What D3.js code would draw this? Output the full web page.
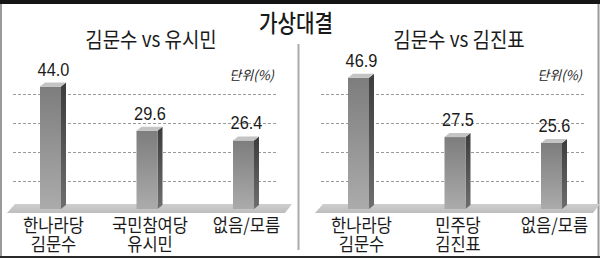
<!DOCTYPE html>
<html>
<head>
<meta charset="utf-8">
<script src="https://cdn.jsdelivr.net/npm/d3@7.9.0/dist/d3.min.js"></script>
<style>
  html, body { margin:0; padding:0; background:#fff; }
  svg { display:block; }
  text { font-family:"Noto Sans CJK KR", sans-serif; fill:#1a1a1a; }
  .num { font-family:"Liberation Sans", Arial, sans-serif; }
</style>
</head>
<body>
<div id="chart"></div>
<script>
const title = '가상대결';
const unitLabel = '단위(%)';

const panelTitles = ['김문수 vs 유시민', '김문수 vs 김진표'];
const catsLeft  = [['한나라당','김문수'], ['국민참여당','유시민'], ['없음/모름']];
const catsRight = [['한나라당','김문수'], ['민주당','김진표'], ['없음/모름']];
const valsLeft  = [44.0, 29.6, 26.4];
const valsRight = [46.9, 27.5, 25.6];
const gridVals  = [13, 22.5, 32, 41.5];

const W = 600, H = 259;
const base = 209, barW = 21, dx = 5, dy = 4;

const svg = d3.select('#chart').append('svg')
  .attr('width', W).attr('height', H);

const defs = svg.append('defs');
const grad = (id, stops, vertical) => {
  const g = defs.append('linearGradient').attr('id', id)
    .attr('x1', 0).attr('y1', 0)
    .attr('x2', vertical ? 0 : 1).attr('y2', vertical ? 1 : 0);
  stops.forEach(([o, c]) => g.append('stop').attr('offset', o).attr('stop-color', c));
};
grad('front', [[0,'#7d7d7d'],[1,'#ababab']], true);
grad('side',  [[0,'#3c3c3c'],[1,'#6e6e6e']], true);
grad('floor', [[0,'#cfcfcf'],[1,'#bdbdbd']], true);

// y: bars in the original don't start from zero, fitted from the picture
const y = d3.scaleLinear().domain([4, 50]).range([base, base - 3.06 * 46]);

// frame
svg.append('rect').attr('x', 0).attr('y', 0).attr('width', W).attr('height', 4).attr('fill', '#151515');
svg.append('line').attr('x1', 1).attr('x2', 1).attr('y1', 4).attr('y2', 256)
  .attr('stroke', '#9a9a9a').attr('stroke-width', 2);
svg.append('line').attr('x1', 598.5).attr('x2', 598.5).attr('y1', 4).attr('y2', 256)
  .attr('stroke', '#9a9a9a').attr('stroke-width', 2);
svg.append('line').attr('x1', 0).attr('x2', W).attr('y1', 257).attr('y2', 257)
  .attr('stroke', '#2a2a2a').attr('stroke-width', 2);
svg.append('line').attr('x1', 298.5).attr('x2', 298.5).attr('y1', 44).attr('y2', 250)
  .attr('stroke', '#ababab').attr('stroke-width', 2);

// condensed text helper
function ctext (g, str, x, yy, size, sx, anchor='middle') {
  return g.append('g').attr('transform', `translate(${x},${yy}) scale(${sx},1)`)
    .append('text').attr('text-anchor', anchor).attr('font-size', size).text(str);
}

ctext(svg, title, 296, 32, 24, 0.84).attr('font-weight', 500);

function drawPanel (ox, subtitle, cats, vals) {
  const g = svg.append('g').attr('transform', `translate(${ox},0)`);
  const x = d3.scalePoint().domain(d3.range(cats.length)).range([50.5, 243.5]);

  ctext(g, subtitle, 151, 47, 21, 0.9);

  g.append('text').attr('x', 274).attr('y', 80).attr('text-anchor', 'end')
    .attr('font-size', 13).attr('font-style', 'italic').text(unitLabel);

  g.selectAll('line.grid').data(gridVals).join('line').attr('class', 'grid')
    .attr('x1', 13).attr('x2', 277)
    .attr('y1', d => Math.round(y(d)) + 0.5).attr('y2', d => Math.round(y(d)) + 0.5)
    .attr('stroke', '#9a9a9a').attr('stroke-dasharray', '3,2');

  g.append('polygon')
    .attr('points', [[15,base-5],[292,base-5],[285,base+4],[7,base+4]].join(' '))
    .attr('fill', 'url(#floor)');

  const bars = g.selectAll('g.bar').data(vals).join('g').attr('class', 'bar');
  bars.append('polygon').attr('fill', 'url(#side)')
    .attr('points', (d, i) => {
      const x1 = x(i) + barW / 2, t = y(d);
      return [[x1,t],[x1+dx,t-dy],[x1+dx,base-dy],[x1,base]].join(' ');
    });
  bars.append('rect').attr('fill', 'url(#front)')
    .attr('x', (d, i) => x(i) - barW / 2).attr('width', barW)
    .attr('y', d => y(d)).attr('height', d => base - y(d));
  bars.append('polygon').attr('fill', '#c4c4c4')
    .attr('points', (d, i) => {
      const x0 = x(i) - barW / 2, x1 = x(i) + barW / 2, t = y(d);
      return [[x0,t],[x0+dx,t-dy],[x1+dx,t-dy],[x1,t]].join(' ');
    });

  vals.forEach((v, i) => {
    ctext(g, v.toFixed(1), x(i) + 3, y(v) - 11, 19, 0.86).attr('class', 'num');
    const t = ctext(g, null, x(i) + 3, 232, 18, 0.92);
    t.selectAll('tspan').data(cats[i]).join('tspan')
      .attr('x', 0).attr('dy', (d, j) => j ? 19 : 0).text(d => d);
  });
}

drawPanel(0, panelTitles[0], catsLeft, valsLeft);
drawPanel(308, panelTitles[1], catsRight, valsRight);
</script>
</body>
</html>
